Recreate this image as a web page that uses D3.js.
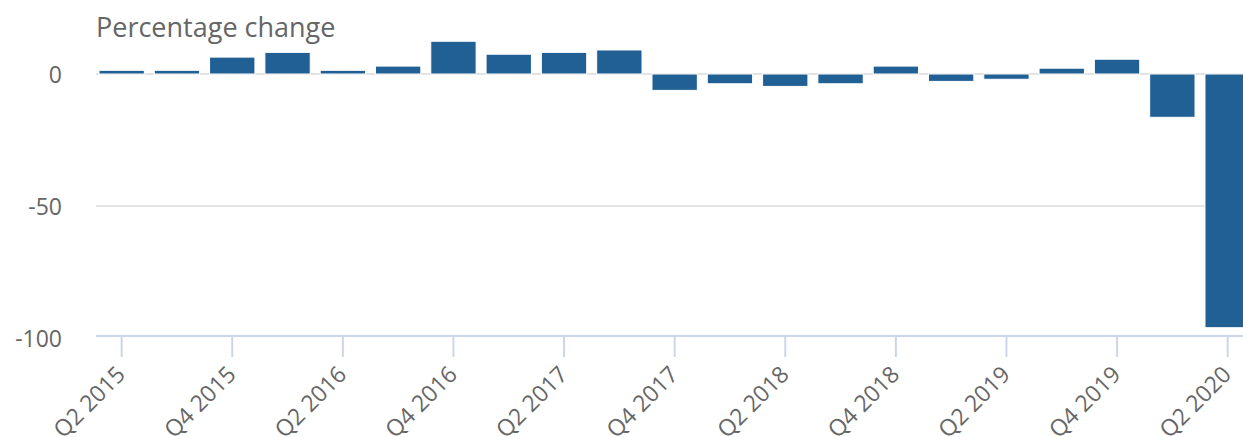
<!DOCTYPE html>
<html>
<head>
<meta charset="utf-8">
<script src="https://cdn.jsdelivr.net/npm/d3@7"></script>
<style>
  body { margin: 0; background: #fff; }
  text { font-family: "Open Sans", sans-serif; fill: #666; }
</style>
</head>
<body>
<div id="chart"></div>
<script>
const quarters = [
  "Q2 2015", "Q3 2015", "Q4 2015", "Q1 2016", "Q2 2016", "Q3 2016", "Q4 2016",
  "Q1 2017", "Q2 2017", "Q3 2017", "Q4 2017", "Q1 2018", "Q2 2018", "Q3 2018",
  "Q4 2018", "Q1 2019", "Q2 2019", "Q3 2019", "Q4 2019", "Q1 2020", "Q2 2020"
];
const values = [
  1.4, 1.4, 6.4, 8.2, 1.4, 3.0, 12.4,
  7.5, 8.2, 9.1, -6.2, -3.7, -4.7, -3.7,
  3.0, -2.8, -2.0, 2.2, 5.6, -16.4, -96.1
];
const yTicks = [0, -50, -100];
const xTickLabels = quarters.filter((_, i) => i % 2 === 0);

const width = 1243;
const height = 437;

const svg = d3.select("#chart")
  .append("svg")
  .attr("width", width)
  .attr("height", height);

// Scales
const x = d3.scaleBand()
  .domain(quarters)
  .range([94, 94 + 21 * 55.3])
  .paddingInner(0.18)
  .paddingOuter(0.09);

const y = d3.scaleLinear()
  .domain([-100, 0])
  .range([338, 74]);

// Title
svg.append("text")
  .attr("x", 96)
  .attr("y", 37)
  .style("font-size", "27px")
  .text("Percentage change");

// Gridlines (0 and -50)
svg.append("g")
  .selectAll("line")
  .data(yTicks.filter(d => d > -100))
  .enter()
  .append("line")
  .attr("x1", 96)
  .attr("x2", width)
  .attr("y1", d => y(d))
  .attr("y2", d => y(d))
  .attr("stroke", "#e3e3e3")
  .attr("stroke-width", 2);

// Y labels
svg.append("g")
  .selectAll("text")
  .data(yTicks)
  .enter()
  .append("text")
  .attr("x", 62)
  .attr("y", d => y(d) + 1)
  .attr("dy", "0.35em")
  .attr("text-anchor", "end")
  .style("font-size", "23px")
  .text(d => d);

// Bars
svg.append("g")
  .selectAll("rect")
  .data(values)
  .enter()
  .append("rect")
  .attr("x", (_, i) => x(quarters[i]))
  .attr("y", d => y(Math.max(0, d)))
  .attr("width", x.bandwidth())
  .attr("height", d => Math.abs(y(d) - y(0)))
  .attr("fill", "#206095")
  .attr("stroke", "#fff")
  .attr("stroke-width", 1);

// X axis
const axisY = 336;
const xAxis = svg.append("g")
  .attr("transform", `translate(0,${axisY})`)
  .call(d3.axisBottom(x).tickValues(xTickLabels).tickSize(21).tickPadding(0));

xAxis.select(".domain")
  .attr("d", `M96,0H${width}`)
  .attr("stroke", "#ccd6eb")
  .attr("stroke-width", 2);

xAxis.selectAll(".tick line")
  .attr("stroke", "#ccd6eb")
  .attr("stroke-width", 2);

xAxis.selectAll(".tick text")
  .attr("y", 0)
  .attr("dy", 0)
  .attr("transform", "translate(5,40) rotate(-45)")
  .attr("text-anchor", "end")
  .style("font-size", "23px")
  .style("font-family", "'Open Sans', sans-serif")
  .attr("fill", "#666");
</script>
</body>
</html>
